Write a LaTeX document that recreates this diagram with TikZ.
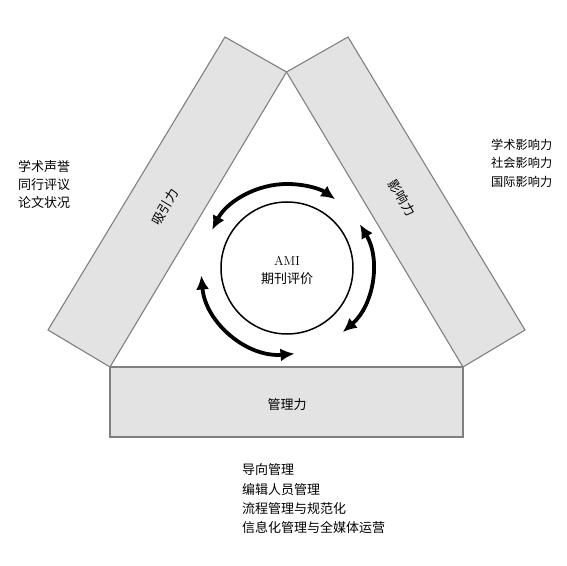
\documentclass[tikz,border=0pt]{standalone}
\usepackage{fontspec}
\newfontfamily\cjk{Noto Sans CJK SC}
\usetikzlibrary{arrows.meta,calc}
\tikzset{
  bar/.style={draw=black!50, fill=black!11, line width=1.1pt, line join=miter},
  cyc/.style={line width=3.8pt, {Latex[length=14pt,width=13pt]}-{Latex[length=14pt,width=13pt]}},
  lbl/.style={font=\cjk\fontsize{13pt}{18pt}\selectfont, inner sep=0pt},
  lst/.style={font=\cjk\fontsize{13pt}{18pt}\selectfont, align=left, inner sep=0pt, anchor=west}
}
\begin{document}
\begin{tikzpicture}[x=1pt,y=1pt]
\useasboundingbox (0,0) rectangle (567,565);
% corner coordinates
\coordinate (A) at (286.5,493);
\coordinate (L1) at (225,528);
\coordinate (L2) at (110,198);
\coordinate (L3) at (48,235);
\coordinate (R1) at (348,528);
\coordinate (R2) at (463,198);
\coordinate (R3) at (525,235);
\coordinate (B1) at (110,128);
\coordinate (B2) at (463,128);
% bars
\draw[bar] (L1) -- (A) -- (L2) -- (L3) -- cycle;
\draw[bar] (R1) -- (A) -- (R2) -- (R3) -- cycle;
\draw[bar] (L2) -- (R2) -- (B2) -- (B1) -- cycle;
% bar labels
\node[lbl, rotate=59] (attr) at (165,358) {吸引力};
\node[lbl, rotate=-59] (infl) at (402,367) {影响力};
\node[lbl] (mgmt) at (287,160) {管理力};
% centre circle
\coordinate (C) at (287,297);
\node[draw, circle, line width=1.5pt, minimum size=132pt, inner sep=0pt] (ami) at (C) {};
\node[lbl, align=center, font=\cjk\fontsize{13pt}{18pt}\selectfont] (amit) at (287,295) {{\rmfamily AMI}\\期刊评价};
% cycle arrows
\draw[cyc] ($(C)+(153:84)$) arc[start angle=153, end angle=55, radius=84];
\draw[cyc] ($(C)+(31:85)$) arc[start angle=31, end angle=-49, radius=85];
\draw[cyc] ($(C)+(185:86)$) arc[start angle=185, end angle=275, radius=86];
% lists
\node[lst] (leftlist) at (18,380) {学术声誉\\同行评议\\论文状况};
\node[lst, font=\cjk\fontsize{12.2pt}{18.5pt}\selectfont] (rightlist) at (491,402) {学术影响力\\社会影响力\\国际影响力};
\node[lst, font=\cjk\fontsize{13pt}{19.3pt}\selectfont] (botlist) at (242,66) {导向管理\\编辑人员管理\\流程管理与规范化\\信息化管理与全媒体运营};
\end{tikzpicture}
\end{document}
